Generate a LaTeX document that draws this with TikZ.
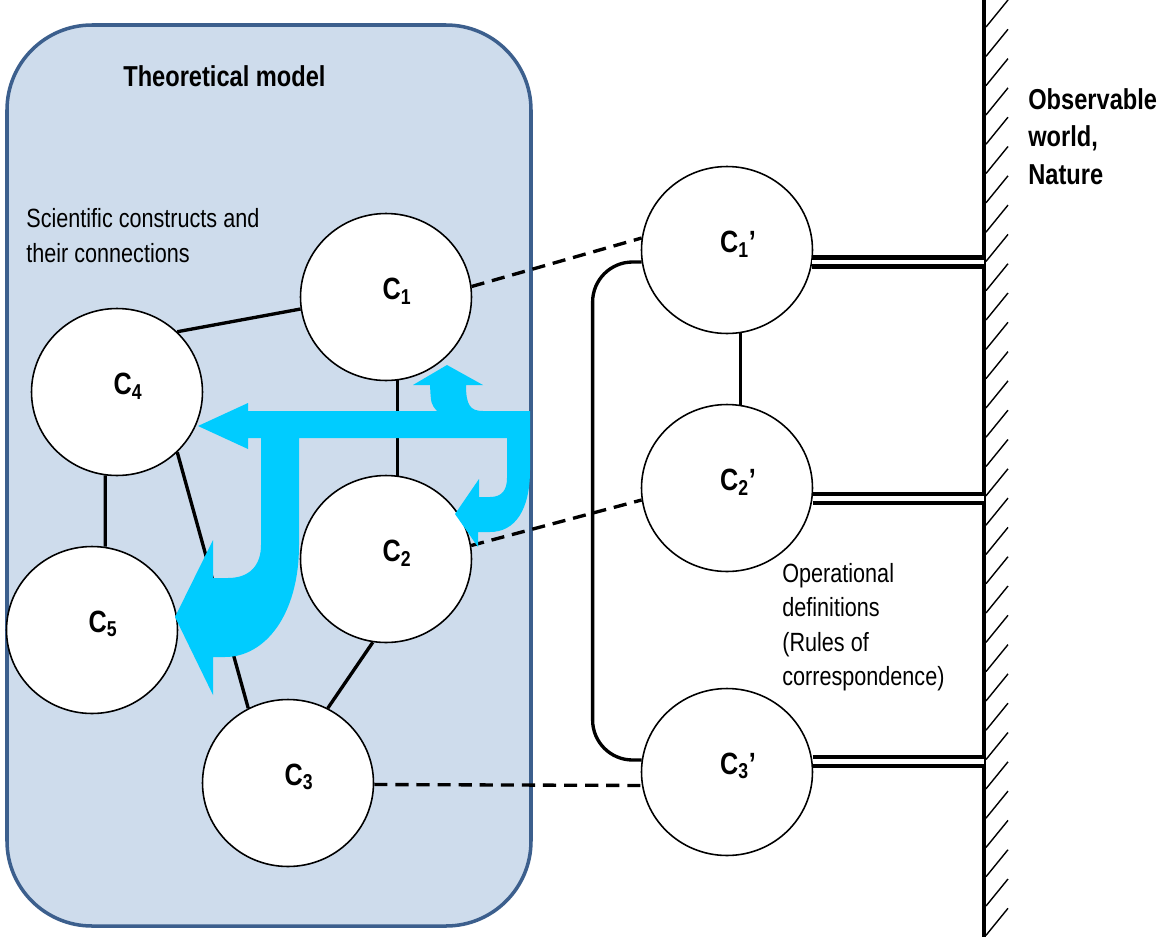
\documentclass[tikz,border=0pt]{standalone}
\usepackage{fontspec}
\setmainfont{Liberation Sans}[FakeStretch=0.82]
\usetikzlibrary{shapes.geometric}
\definecolor{modelline}{HTML}{3C5F8D}
\definecolor{modelfill}{HTML}{CEDCEC}
\definecolor{flow}{HTML}{00CCFF}

\begin{document}
\begin{tikzpicture}[x=0.02cm, y=-0.02cm,
    construct/.style={ellipse, draw, line width=0.9pt, fill=white, inner sep=0pt,
      minimum width=3.42cm, minimum height=3.34cm},
    lbl/.style={font=\fontsize{17.5}{20}\selectfont\bfseries, xshift=0.22cm, yshift=0.12cm},
    link/.style={line width=1.9pt},
    corr/.style={line width=1.9pt, dash pattern=on 7.5pt off 4.5pt},
    tie/.style={double, line width=2.7pt, double distance=2.4pt},
    plain/.style={align=left, inner sep=0pt, anchor=north west}]
  \useasboundingbox (0,0) rectangle (1161,937);

  % theoretical model
  \draw[modelline, fill=modelfill, line width=2pt, rounded corners=1.7cm] (7,25) rectangle (531,926);
  \node[plain, font=\fontsize{16.4}{20}\selectfont\bfseries] (title) at (123,65) {Theoretical model};
  \node[plain, font=\fontsize{15}{19.8}\selectfont] (constr) at (26,208) {Scientific constructs and\\their connections};

  \node[construct, label={[lbl]center:C\textsubscript{1}}] (C1) at (386,297) {};
  \node[construct, label={[lbl]center:C\textsubscript{2}}] (C2) at (386,559) {};
  \node[construct, label={[lbl]center:C\textsubscript{3}}] (C3) at (288,783) {};
  \node[construct, label={[lbl]center:C\textsubscript{4}}] (C4) at (117,392) {};
  \node[construct, label={[lbl]center:C\textsubscript{5}}] (C5) at (92,630) {};

  \draw[link] (C4.45) -- (C1.188);
  \draw[link] (C1.-82) -- (C2.82);
  \draw[link] (C4.-98) -- (C5.81);
  \draw[link] (C4.-45) -- (C3.118);
  \draw[link] (C2.-99) -- (C3.62);

  % operational side
  \node[construct, label={[lbl]center:C\textsubscript{1}’}] (C1p) at (727,250) {};
  \node[construct, label={[lbl]center:C\textsubscript{2}’}] (C2p) at (727,488) {};
  \node[construct, label={[lbl]center:C\textsubscript{3}’}] (C3p) at (727,772) {};
  \node[plain, font=\fontsize{15}{19.6}\selectfont] (opdef) at (782,563)
    {Operational\\definitions\\(Rules of\\correspondence)};

  \draw[link] (C1p.-81) -- (C2p.81);
  \draw[link, rounded corners=0.8cm] (C1p.188) -- ++(-49,0) |- (C3p.172);

  \draw[corr] (C1.7) -- (C1p.172);
  \draw[corr] (C2.9) -- (C2p.188);
  \draw[corr] (C3.-1) -- (C3p.189);

  % observable world
  \coordinate (wallTop) at (984,0);
  \coordinate (wallBot) at (984,937);
  \draw[line width=2.4pt] (wallTop) -- (wallBot);
  \foreach \y in {27,56.3,...,937}
    \draw[line width=0.8pt] (986,\y) -- ++(22,-27);
  \node[plain, font=\fontsize{16.4}{21.3}\selectfont\bfseries] (nature) at (1028,88)
    {Observable\\world,\\Nature};

  \draw[tie] (C1p.-8) -- (C1p.-8 -| wallTop);
  \draw[tie] (C2p.-7) -- (C2p.-7 -| wallTop);
  \draw[tie] (C3p.7) -- (C3p.7 -| wallTop);

  % flow arrows
  \fill[flow] (248,411) -- (437,411) .. controls (431,404) .. (430,385) -- (413,385)
    -- (447,365) -- (483,385) -- (466,385) .. controls (466,405) and (470,411) .. (483,411)
    -- (530,411) -- (530,470) .. controls (530,510) and (515,532) .. (490,532) -- (478,532)
    -- (478,547) -- (455,514) -- (479,479) -- (479,497) -- (490,497)
    .. controls (502,497) and (507,490) .. (507,478) -- (507,438) -- (299,438) -- (299,545)
    .. controls (299,615) and (265,657) .. (225,657) -- (213,657) -- (213,695) -- (175,617)
    -- (213,540) -- (213,578) -- (228,578) .. controls (250,578) and (261,565) .. (261,545)
    -- (261,438) -- (248,438) -- (248,449) -- (198,426) -- (248,403) -- cycle;
\end{tikzpicture}
\end{document}
